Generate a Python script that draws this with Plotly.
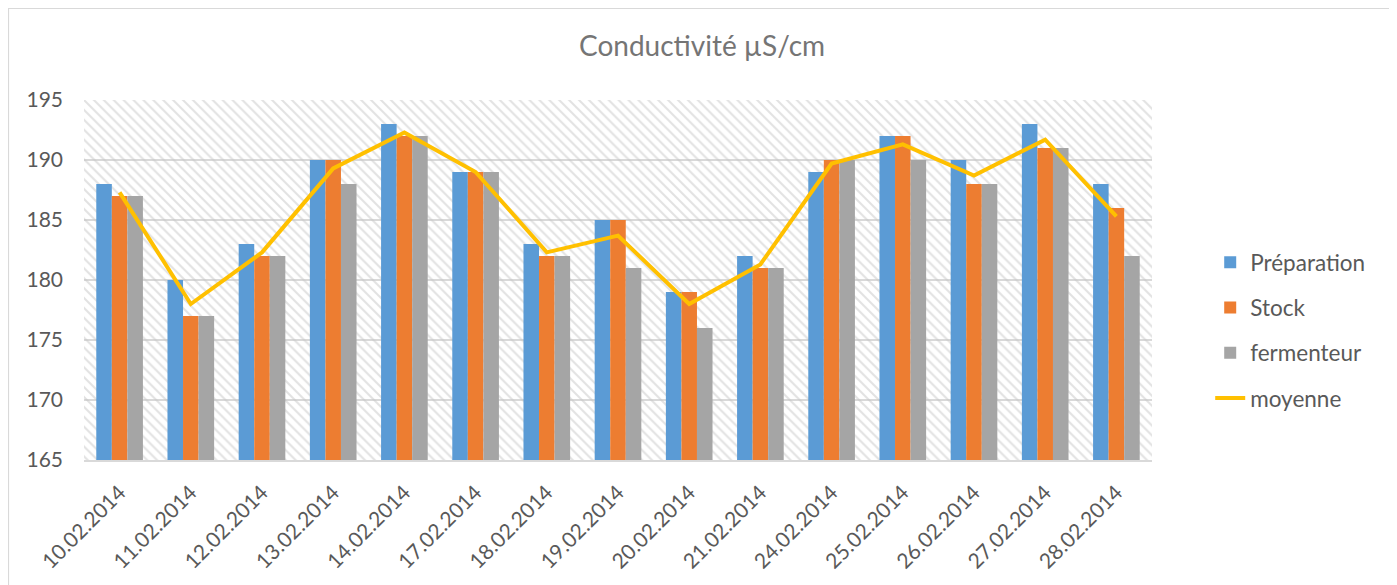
import plotly.graph_objects as go

dates = ["10.02.2014", "11.02.2014", "12.02.2014", "13.02.2014", "14.02.2014",
         "17.02.2014", "18.02.2014", "19.02.2014", "20.02.2014", "21.02.2014",
         "24.02.2014", "25.02.2014", "26.02.2014", "27.02.2014", "28.02.2014"]
preparation = [188, 180, 183, 190, 193, 189, 183, 185, 179, 182, 189, 192, 190, 193, 188]
stock = [187, 177, 182, 190, 192, 189, 182, 185, 179, 181, 190, 192, 188, 191, 186]
fermenteur = [187, 177, 182, 188, 192, 189, 182, 181, 176, 181, 190, 190, 188, 191, 182]
moyenne = [187.3, 178.0, 182.3, 189.3, 192.3, 189.0, 182.3, 183.7, 178.0, 181.3,
           189.7, 191.3, 188.7, 191.7, 185.3]
y_min, y_max = 165, 195

FONT = "Lato"
GRAY_TXT = "#595959"

W, H = 1389, 577
L, T, PW, PH = 76, 92, 1068, 360

fig = go.Figure()

# hatched plot-area background (single overlay bar spanning the axes)
mid = len(dates) // 2
fig.add_trace(go.Bar(
    x=[dates[mid]], y=[y_max - y_min], base=[y_min],
    width=len(dates), offset=-len(dates) / 2,
    marker=dict(color="rgba(0,0,0,0)", line=dict(width=0),
                pattern=dict(shape="\\", fgcolor="#c6c6c6", bgcolor="rgba(0,0,0,0)",
                             size=7, solidity=0.3)),
    showlegend=False, hoverinfo="skip",
))

series = [("Préparation", preparation, "#5B9BD5"),
          ("Stock", stock, "#ED7D31"),
          ("fermenteur", fermenteur, "#A5A5A5")]
for name, vals, col in series:
    fig.add_trace(go.Bar(
        x=dates, y=[v - y_min for v in vals], base=y_min, name=name,
        marker=dict(color=col, line=dict(width=0)), legendgroup=name,
    ))

fig.add_trace(go.Scatter(
    x=dates, y=moyenne, name="moyenne", mode="lines",
    line=dict(color="#FFC000", width=4), legendgroup="moyenne",
))

fig.update_layout(
    width=W, height=H,
    paper_bgcolor="white", plot_bgcolor="white",
    margin=dict(l=L, r=W - L - PW, t=T, b=H - T - PH),
    barmode="group", bargap=0.345, bargroupgap=0,
    font=dict(family=FONT, color=GRAY_TXT, size=21),
    title=dict(text="Conductivité µS/cm", x=694 / W, xanchor="center",
               y=1 - 38 / H, yanchor="middle",
               font=dict(family=FONT, size=28, color="#757575")),
    legend=dict(x=1.0545, xanchor="left", y=0.361, yanchor="middle",
                traceorder="grouped", tracegroupgap=13,
                font=dict(family=FONT, size=22.5, color=GRAY_TXT),
                bgcolor="rgba(0,0,0,0)"),
    showlegend=True,
)

fig.update_xaxes(
    type="category", categoryorder="array", categoryarray=dates,
    range=[-0.5, len(dates) - 0.5],
    tickangle=-45, tickfont=dict(size=21, color=GRAY_TXT), ticklabelstandoff=10,
    showgrid=False, showline=True, linecolor="#d9d9d9", linewidth=2,
    ticks="",
)
fig.update_yaxes(
    range=[y_min, y_max], dtick=5, tick0=y_min,
    showgrid=True, gridcolor="#d9d9d9", gridwidth=1.5,
    zeroline=False, showline=False, ticks="",
    tickfont=dict(size=21, color=GRAY_TXT), ticklabelstandoff=20,
)

# outer chart border
fig.add_shape(type="rect", xref="paper", yref="paper",
              x0=(0.5 - L) / PW, x1=(1386 - L) / PW,
              y0=(T + PH - 600) / PH, y1=(T + PH - 0.5) / PH,
              line=dict(color="#d9d9d9", width=1.2), fillcolor="rgba(0,0,0,0)",
              layer="below")

fig.write_html("out.html")
